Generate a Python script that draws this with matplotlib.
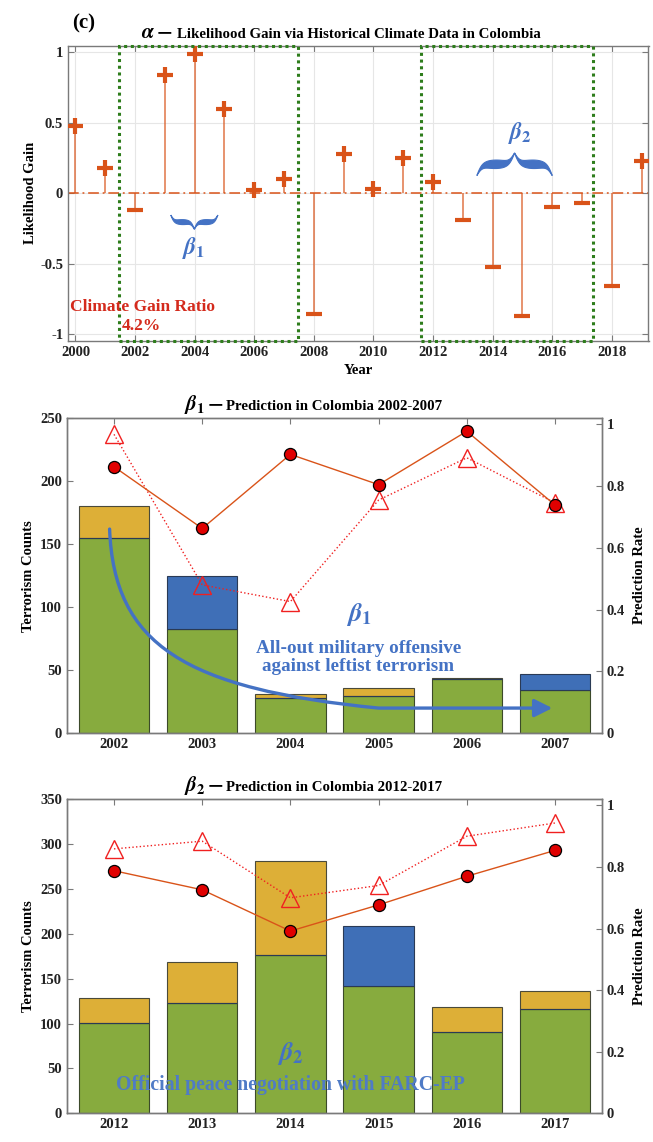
import numpy as np
import matplotlib
matplotlib.use('Agg')
import matplotlib.pyplot as plt
import matplotlib.transforms as mtransforms
from matplotlib.path import Path
from matplotlib.patches import FancyArrowPatch, Rectangle, Polygon

# ---------------- data ----------------
years_a = list(range(2000, 2020))
gain = [0.48, 0.18, -0.12, 0.84, 0.99, 0.60, 0.02, 0.10, -0.86, 0.28,
        0.03, 0.25, 0.08, -0.19, -0.52, -0.87, -0.10, -0.07, -0.66, 0.23]
xticks_a = list(range(2000, 2020, 2))
yticks_a = [-1, -0.5, 0, 0.5, 1]
yticklabels_a = ['-1', '-0.5', '0', '0.5', '1']

years_b1 = [2002, 2003, 2004, 2005, 2006, 2007]
green_b1 = [155, 83, 28, 29, 43, 34]
yellow_b1 = [25, 0, 3, 7, 1, 0]
blue_b1 = [0, 42, 0, 0, 0, 13]
rate_solid_b1 = [0.863, 0.663, 0.903, 0.805, 0.978, 0.739]
rate_dot_b1 = [0.968, 0.480, 0.426, 0.755, 0.892, 0.746]

years_b2 = [2012, 2013, 2014, 2015, 2016, 2017]
green_b2 = [101, 123, 177, 142, 91, 116]
yellow_b2 = [27, 46, 104, 0, 27, 20]
blue_b2 = [0, 0, 0, 67, 0, 0]
rate_solid_b2 = [0.788, 0.726, 0.592, 0.677, 0.770, 0.854]
rate_dot_b2 = [0.859, 0.884, 0.700, 0.740, 0.900, 0.943]

rate_ticks = [0, 0.2, 0.4, 0.6, 0.8, 1]
rate_ticklabels = ['0', '0.2', '0.4', '0.6', '0.8', '1']

# ---------------- style ----------------
plt.rcParams['font.family'] = ['Liberation Serif', 'DejaVu Serif']
plt.rcParams['font.weight'] = 'bold'
plt.rcParams['axes.labelweight'] = 'bold'
plt.rcParams['mathtext.fontset'] = 'stix'
plt.rcParams['axes.unicode_minus'] = False

ORANGE = '#D95319'
GREEN = '#87AB3E'
YELLOW = '#DDAF37'
BLUE = '#3F6FB7'
TXTBLUE = '#4472C4'
SPINE = '#7A7A7A'
W, H = 653, 1142

fig = plt.figure(figsize=(W / 100, H / 100), dpi=100)


def axpos(l, t, r, b):
    return [l / W, 1 - b / H, (r - l) / W, (b - t) / H]


def style_ax(ax, fs=10.5):
    for s in ax.spines.values():
        s.set_color(SPINE)
        s.set_linewidth(1.0)
    ax.tick_params(direction='in', length=4, width=0.8, color=SPINE,
                   labelsize=fs, labelcolor='#222222', top=True, right=True)


def brace(ax, x0, x1, yend, ytip, thick, color):
    n = 301
    u = np.linspace(0, 1, n)
    beta = 28.0
    uh = np.where(u <= 0.5, u, 1 - u)
    v = (1 / (1 + np.exp(-beta * uh)) + 1 / (1 + np.exp(-beta * (uh - 0.5)))) - 0.5
    v = (v - v.min()) / (v.max() - v.min())
    w = np.sin(np.pi * uh / 0.5) ** 0.8
    x = x0 + (x1 - x0) * u
    y = yend + (ytip - yend) * v
    sgn = 1 if yend > ytip else -1
    y_a = y + sgn * thick * w * 0.5
    y_b = y - sgn * thick * w * 0.5
    pts = np.vstack([np.column_stack([x, y_a]), np.column_stack([x[::-1], y_b[::-1]])])
    ax.add_patch(Polygon(pts, closed=True, fc=color, ec=color, lw=0.8, zorder=5))


# ---------------- panel alpha ----------------
ax = fig.add_axes(axpos(68, 45.7, 648.5, 340.7))
style_ax(ax)
ax.set_xlim(1999.75, 2019.23)
ax.set_ylim(-1.046, 1.046)
ax.set_xticks(xticks_a)
ax.set_yticks(yticks_a)
ax.set_yticklabels(yticklabels_a)
ax.grid(True, color='#E6E6E6', lw=0.8)
ax.set_axisbelow(True)
ax.axhline(0, color=ORANGE, lw=1.1, ls=(0, (7, 2.5, 1.2, 2.5)), zorder=2)
ax.vlines(years_a, 0, gain, color=ORANGE, lw=1.1, alpha=0.8, zorder=3)
ya = np.array(years_a)
ga = np.array(gain)
pos = ga >= 0
ax.plot(ya[pos], ga[pos], ls='none', marker='+', ms=11, mew=3.0, color=ORANGE, zorder=4)
ax.plot(ya[~pos], ga[~pos], ls='none', marker='_', ms=11, mew=3.0, color=ORANGE, zorder=4)
ax.set_xlabel('Year', fontsize=10.5, labelpad=4)
ax.set_ylabel('Likelihood Gain', fontsize=10.5, labelpad=2)

trans = mtransforms.blended_transform_factory(ax.transData, ax.transAxes)
for (a, b) in [(2001.45, 2007.48), (2011.6, 2017.36)]:
    ax.add_patch(Rectangle((a, 0), b - a, 1, transform=trans, fill=False,
                           ec='#2E7D1C', lw=2.2, ls=(0, (1, 1.2)), clip_on=False, zorder=6))

brace(ax, 2003.2, 2004.78, -0.155, -0.255, 0.035, TXTBLUE)
ax.text(2003.95, -0.39, r'$\beta_1$', color=TXTBLUE, fontsize=17, ha='center', va='center')
brace(ax, 2013.47, 2016.0, 0.125, 0.285, 0.06, TXTBLUE)
ax.text(2014.9, 0.43, r'$\beta_2$', color=TXTBLUE, fontsize=17, ha='center', va='center')

ax.text(1999.82, -0.81, 'Climate Gain Ratio', color='#D42A1C', fontsize=12.5,
        ha='left', va='center', zorder=7)
ax.text(2002.2, -0.945, '4.2%', color='#D42A1C', fontsize=12.5, ha='center', va='center', zorder=7)

fig.text(72 / W, 1 - 28 / H, '(c)', fontsize=15, ha='left', va='baseline')
fig.text(141 / W, 1 - 38.5 / H, r'$\alpha -$', fontsize=15, ha='left', va='baseline')
fig.text(177 / W, 1 - 38.5 / H, 'Likelihood Gain via Historical Climate Data in Colombia',
         fontsize=10.7, ha='left', va='baseline')


# ---------------- bar panels ----------------
def bar_panel(rect, years, green, yellow, blue, solid, dot, ymax, yticks, title_sym, title_txt, title_y):
    ax = fig.add_axes(rect)
    style_ax(ax)
    ax.tick_params(right=False)
    x = np.array(years)
    g = np.array(green)
    yl = np.array(yellow)
    bl = np.array(blue)
    ax.bar(x, g, width=0.8, color=GREEN, ec='#3C4A2A', lw=0.8, zorder=2)
    ax.bar(x, yl, width=0.8, bottom=g, color=YELLOW, ec='#4A4A3A', lw=0.8, zorder=2)
    ax.bar(x, bl, width=0.8, bottom=g, color=BLUE, ec='#2A3A55', lw=0.8, zorder=2)
    ax.set_xlim(years[0] - 0.533, years[-1] + 0.533)
    ax.set_ylim(0, ymax)
    ax.set_xticks(years)
    ax.set_yticks(yticks)
    ax.set_ylabel('Terrorism Counts', fontsize=10.5, labelpad=4)
    ax2 = ax.twinx()
    style_ax(ax2)
    ax2.tick_params(left=False, top=False)
    ax2.set_ylim(0, 1.02)
    ax2.set_yticks(rate_ticks)
    ax2.set_yticklabels(rate_ticklabels)
    ax2.plot(x, solid, color=ORANGE, lw=1.0, marker='o', ms=8.7, mfc='#E00000',
             mec='black', mew=0.9, zorder=4)
    ax2.plot(x, dot, color='#F02020', lw=1.0, ls=':', marker='^', ms=13, mfc='none',
             mec='#F02020', mew=1.0, zorder=3)
    ax2.set_ylabel('Prediction Rate', fontsize=10.5, labelpad=6)
    fig.text(184 / W, 1 - title_y / H, title_sym, fontsize=15, ha='left', va='baseline')
    fig.text(226 / W, 1 - title_y / H, title_txt, fontsize=10.7, ha='left', va='baseline')
    return ax, ax2


ax_b1, ax_b1r = bar_panel(axpos(67, 418.3, 602, 733), years_b1, green_b1, yellow_b1, blue_b1,
                          rate_solid_b1, rate_dot_b1, 250, [0, 50, 100, 150, 200, 250],
                          r'$\beta_1 -$', 'Prediction in Colombia 2002-2007', 410.5)

# arrow
verts = [(2001.95, 162), (2002.0, 70), (2002.8, 35), (2005.0, 19.8), (2006.97, 19.8)]
codes = [Path.MOVETO, Path.CURVE4, Path.CURVE4, Path.CURVE4, Path.LINETO]
arr = FancyArrowPatch(path=Path(verts, codes), arrowstyle='-|>,head_length=0.9,head_width=0.45',
                      mutation_scale=12, color='#4472C4', lw=2.4, transform=ax_b1.transData, zorder=6)
ax_b1.add_patch(arr)
ax_b1.text(2004.77, 94, r'$\beta_1$', color=TXTBLUE, fontsize=19, ha='center', va='center', zorder=7)
ax_b1.text(2004.77, 60, 'All-out military offensive\nagainst leftist terrorism', color=TXTBLUE,
           fontsize=13.8, ha='center', va='center', linespacing=1.12, zorder=7)

ax_b2, ax_b2r = bar_panel(axpos(67, 799.3, 602, 1113.3), years_b2, green_b2, yellow_b2, blue_b2,
                          rate_solid_b2, rate_dot_b2, 350, [0, 50, 100, 150, 200, 250, 300, 350],
                          r'$\beta_2 -$', 'Prediction in Colombia 2012-2017', 790.7)
ax_b2.text(2014.0, 67, r'$\beta_2$', color=TXTBLUE, fontsize=19, ha='center', va='center', zorder=7)
ax_b2.text(2014.0, 31, 'Official peace negotiation with FARC-EP', color='#4F7BC6',
           fontsize=14.2, ha='center', va='center', zorder=7)

fig.savefig('out.png', dpi=100)
